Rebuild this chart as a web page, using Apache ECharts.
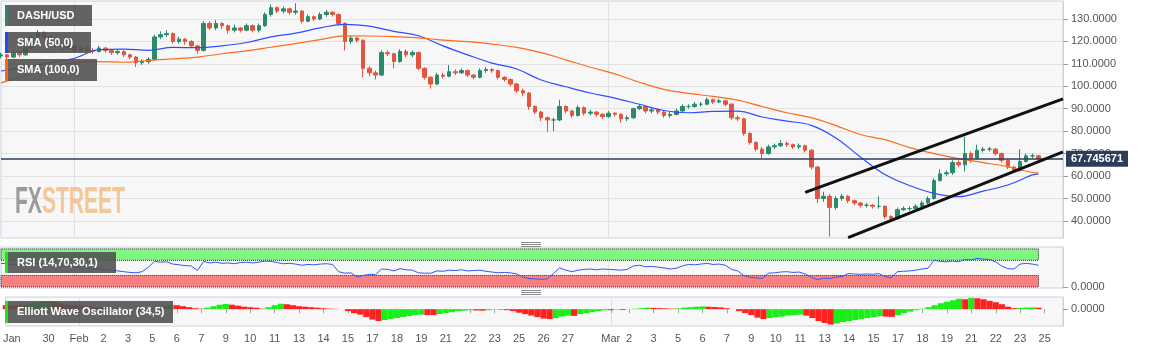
<!DOCTYPE html>
<html>
<head>
<meta charset="utf-8">
<title>DASH/USD</title>
<script src="https://cdn.jsdelivr.net/npm/echarts@6/dist/echarts.min.js"></script>
<style>
  html, body { margin: 0; padding: 0; background: #fff; }
  #chart { width: 1153px; height: 352px; }
</style>
</head>
<body>
<div id="chart"></div>
<script>
// DASH/USD, 8h candles, Jan 29 - Mar 24
const firstOpen = 113.5;
const closes = [114,113,115,114,117,122,124,122,120,118,
  117,118,116,117,116,115.5,117,116,115,115.5,
  114,113,110.5,111,112,122,123,123.5,120,121,
  120,118,116,128,126,128,127,125,126,125,
  127,125,127,132,135,133.5,134.5,133,133.5,129,
  131,130,132,133,132,128,120,121.5,120.5,108,
  106,105,115,114.5,111,115.5,114,115,108,104,
  101,105,104.5,106.5,106,107,105,104,107,107.5,
  107,104,103,101,98,97,91,88.5,86,85,
  85,91,89,87,90.5,88,88.5,87.5,86.5,88,
  87.5,85.5,86,90,91,89,89.5,88.5,87,87.5,
  89,91,91,92,92,94,93,93.5,92,86,
  85.5,79,75,72,70,73,73.5,74.5,74,73,
  73.5,71.5,64,50,51,46,50,51,49,48,
  47,47,46.5,46.5,42,41,45,45.5,45.5,46.5,
  48,50,58,61,61.5,66,65,70,68,71.5,
  72,72,70,67,64,62.5,66.5,69,69,67.75];
const highs = [115,114.5,116,115.5,118,123,125,124.5,122.5,120.5,
  119,119,118.5,118,117.5,117,118,117.5,116.5,116.5,
  116,114.5,113.5,112,113,123,124.5,125,124,122,
  121.5,120.5,118.5,129,129,129.5,128.5,127.5,127.5,126.5,
  128,127.5,128,133,136.5,135.5,135.5,135,137,134,
  132,131.5,133,134,133.5,132.5,128.5,122.5,122,121,
  109,107,116,116,115,116.5,116.5,116,115.5,108.5,
  104.5,106,106,109.5,107.5,108,107.5,105.5,108,108.5,
  108,107.5,104.5,103.5,101.5,99,97.5,91.5,89,86.5,
  86,94,91.5,89.5,91.5,91,89.5,89,88,89,
  88.5,88,87,90.5,92,91.5,90.5,90,89,88.5,
  90,92,92,93,93,95,94.5,94.5,94,92.5,
  87,86,79.5,75.5,73,74,74.5,76,75.5,74.5,
  74.5,74,72,64.5,53,52,51,52,51.5,49.5,
  48.5,48,47.5,51,47,42.5,46,46.5,46.5,47.5,
  49,51,59,63,62.5,67,67,77.5,71,74,
  73,73,72.5,70.5,67.5,64.5,72,70,70,69.5];
const lows = [112.5,112,112.5,113,113.5,116.5,121.5,121,119,117,
  116,116.5,115,115.5,115,114.5,115,115,114,114,
  113,112,108.6,109.5,110,111.5,121,122,119,119,
  118.5,117,114.5,115.5,125,125,125.5,123.5,124,124,
  124.5,124,124,126.5,131,132.5,132.5,132,132,128,
  128.5,129,129.5,131,131,127,116,119,119.5,104,
  104.5,103,104.5,113.5,108,110.5,113,113,107,103,
  99,100.5,103.5,104,105,105.5,104,103,103.5,106,
  106,103,102,100,97,95.5,89.5,87.5,84.5,79.7,
  80,84.5,88,86,86.5,87,87,86.5,85.5,86,
  86.5,83.7,84.5,85.5,89.5,88,88,87.5,86,86,
  87,88.5,90,90.5,91,91.5,92,92.5,91,85,
  84.5,78,74,71,68,69.5,72,73,73,72,
  72,70.5,63,48,48.5,33,45,49,48,47,
  46,46,45.5,45.5,41,39.5,40.5,44.5,44.5,45,
  46,47.5,49.5,57.5,60,60.5,64,62,66,67.5,
  70.5,71,69,66,63,61.5,62,66,68,67.3];

// moving averages read every 4th candle
const smaSlots = [0,4,8,12,16,20,24,28,32,36,40,44,48,52,56,60,64,68,72,76,80,84,
  88,92,96,100,104,108,112,116,120,124,128,132,136,140,144,148,152,156,160,164,168,169];
const sma50 = [106.8,108.5,110.5,112.5,116.3,116.6,116,117.3,117.2,118,
  119.5,122,123.7,126,127.6,126.8,124.5,122.5,118,114,
  110.3,107.7,102.8,99.8,97,94.7,92,89.2,88.2,88.8,
  88.9,86.3,84.5,82.6,77,68.5,60.7,55.8,52.3,50.8,
  53.3,56,60.5,61];
const sma100 = [101.5,105,108.5,110.5,111,110.7,111.5,112.2,113,114.5,
  115.8,117.4,119,120.8,122.5,122.4,122.1,121.6,120.6,119.9,
  118.8,117.3,115,111.8,108.5,105.5,101.8,98.6,96.8,95.5,
  93.8,91,88.2,86,82.5,78.5,76.2,72.7,70,67.8,
  66,64.2,61.6,61.4];

const rsi = [62,61,58,59,57,60,62,60,58,56,
  55,54,52,50,49,48,47,46,44,42,
  40,38,37,40,52,67,65,66,60,58,
  56,55,43,67,63,65,62,63,61,64,
  65,63,65,68,67,64,61,62,60,57,
  59,58,60,61,59,40,36,37,26,30,
  33,32,47,46,42,48,45,44,37,36,
  36,42,41,44,43,45,42,43,44,41,
  39,37,38,37,34,26,22,21,20,21,
  35,50,44,40,44,46,47,45,47,46,
  45,44,46,55,57,53,54,52,50,47,
  49,55,59,58,60,62,59,60,57,46,
  42,30,25,24,22,36,37,39,40,38,
  39,34,25,19,23,22,26,27,35,34,
  33,34,33,35,27,24,40,41,42,44,
  47,49,70,67,66,68,66,72,71,75,
  73,72,66,55,48,47,60,62,60,57];

const ewo = [4,3.5,3.5,4.5,5.5,6.5,7.5,8.3,7.5,6,
  4.5,4,3.5,3,2.5,2,2,1.5,1,0.5,
  0,-0.5,-1,-0.5,0.5,2,3.5,4.5,4,3,
  2,1,0.5,1.5,3,4.5,5.3,4.5,3.5,2.5,
  2,1.5,0.5,2,4,5.5,5,4,3,2.5,
  2,1.5,1,0.5,0.3,0,-2,-4,-5.5,-8,
  -10.5,-12,-11,-10,-9,-8,-7,-6,-5.5,-6,
  -6,-5,-4,-3,-2,-1.5,-1,-1.3,-1.5,-1,
  -0.3,-0.5,-1,-2,-3.5,-5,-6.5,-8,-9.5,-10,
  -9,-7.5,-6.5,-6.8,-5,-4,-3,-2,-1,-1,
  -0.5,-0.8,0,0.5,1,1.5,1.3,1,0.8,0.5,
  0.8,1.5,2,2.5,2.8,2.5,2.2,1.8,1,0,
  -2,-4,-6,-8.5,-10,-9,-8,-7.5,-6.5,-6,
  -5.5,-6.5,-9,-12,-14,-15.5,-14.5,-13,-12,-11,
  -10,-9,-8,-7,-7.5,-7.8,-6,-4,-2.5,-1,
  0.5,2,4,6,7.5,9,10.5,10,11.5,11,
  10,8.5,7,5,2.5,1,1.3,1.6,1.8,1.5];

const lastPrice = 67.745671;
const priceTicks = [40, 50, 60, 70, 80, 90, 100, 110, 120, 130];
const tickLabels = ['Jan','30','Feb','2','3','5','6','7','9','10','11','13','14','15','17','18','19','21','22','23','25','26','27',
  'Mar','2','3','5','6','7','9','10','11','13','14','15','17','18','19','21','22','23','25'];
const tickSlots = [1,7,12,16,20,24,28,32,36,40,44,48,52,56,60,64,68,72,76,80,84,88,92,
  99,102,106,110,114,118,122,126,130,134,138,142,146,150,154,158,162,166,170];
const monthSlots = [12, 99];
// channel drawn on the chart: [slot, price] end points
const channelUpper = [[131, 52.7], [173, 94.4]];
const channelLower = [[138, 32.6], [173, 70.8]];
const slotCount = 174;

const categories = new Array(slotCount).fill('');
tickSlots.forEach((s, k) => { categories[s] = tickLabels[k]; });

const candles = closes.map((c, i) => [i === 0 ? firstOpen : closes[i - 1], c, lows[i], highs[i]]);
const sparse = vals => {
  const out = new Array(closes.length).fill(null);
  smaSlots.forEach((s, k) => { out[s] = vals[k]; });
  return out;
};
const ewoBars = ewo.map((v, i) => ({
  value: v,
  itemStyle: { color: i > 0 && v > ewo[i - 1] ? '#19ee19' : '#ff2020' }
}));

const FONT = '"Liberation Sans", Arial, sans-serif';
const panelBorder = '#c9d1e6';
const monthLine = (idx) => monthSlots.includes(idx);

function xAxisFor(gridIndex, showLabels) {
  return {
    type: 'category', gridIndex, data: categories, boundaryGap: false,
    axisLine: { show: false },
    axisTick: showLabels ? { show: true, length: 4, interval: (i, v) => v !== '', lineStyle: { color: '#9aa' } } : { show: false },
    axisLabel: showLabels ? { show: true, interval: (i, v) => v !== '', color: '#555', fontSize: 11, fontFamily: FONT, margin: 7, hideOverlap: false } : { show: false },
    splitLine: { show: true, interval: monthLine, lineStyle: { color: '#e1e1e1' } }
  };
}

// legend-like tag boxes sit on top of everything
function labelBox(x, y, w, h, text, strip) {
  return {
    type: 'group', x, y, zlevel: 1,
    children: [
      { type: 'rect', z: 100, shape: { x: 0, y: 0, width: w, height: h }, style: { fill: 'rgba(82,82,82,0.9)' } },
      { type: 'rect', z: 101, shape: { x: 0, y: 0, width: 3, height: h }, style: { fill: strip } },
      { type: 'text', z: 102, x: 12, y: h / 2, style: { text, fill: '#fff', font: 'bold 11px ' + FONT, verticalAlign: 'middle', textVerticalAlign: 'middle' } }
    ]
  };
}

function handle(y) {
  return {
    type: 'group', x: 521, y, zlevel: 1,
    children: [0, 2, 4].map(d => ({ type: 'line', z: 100, shape: { x1: 0, y1: d + 0.5, x2: 20, y2: d + 0.5 }, style: { stroke: '#8a8a8a', lineWidth: 1 } }))
  };
}

const chart = echarts.init(document.getElementById('chart'));
chart.setOption({
  animation: false,
  backgroundColor: '#fff',
  textStyle: { fontFamily: FONT },
  grid: [
    { left: 1, right: 90, top: 1, height: 237, show: true, backgroundColor: '#f7f7f7', borderColor: panelBorder },
    { left: 1, right: 90, top: 247, height: 41, show: true, backgroundColor: '#f7f7f7', borderColor: panelBorder },
    { left: 1, right: 90, top: 297, height: 29, show: true, backgroundColor: '#f7f7f7', borderColor: panelBorder }
  ],
  xAxis: [xAxisFor(0, false), xAxisFor(1, false), xAxisFor(2, true)],
  yAxis: [
    {
      type: 'value', gridIndex: 0, position: 'right', min: 32.4, max: 138, scale: true,
      axisLine: { show: true, lineStyle: { color: panelBorder } },
      axisTick: { show: true, length: 5, customValues: priceTicks, lineStyle: { color: '#999' } },
      axisLabel: { customValues: priceTicks, color: '#555', fontSize: 11, margin: 8, formatter: v => v.toFixed(4) },
      splitLine: { show: true, lineStyle: { color: '#e2e2e2' } }
    },
    {
      type: 'value', gridIndex: 1, position: 'right', min: -3, max: 105,
      axisLine: { show: true, lineStyle: { color: panelBorder } },
      axisTick: { show: true, length: 5, customValues: [0], lineStyle: { color: '#999' } },
      axisLabel: { customValues: [0], color: '#555', fontSize: 11, margin: 8, formatter: v => v.toFixed(4) },
      splitLine: { show: false }
    },
    {
      type: 'value', gridIndex: 2, position: 'right', min: -17, max: 12.3,
      axisLine: { show: true, lineStyle: { color: panelBorder } },
      axisTick: { show: true, length: 5, customValues: [0], lineStyle: { color: '#999' } },
      axisLabel: { customValues: [0], color: '#555', fontSize: 11, margin: 8, formatter: v => v.toFixed(4) },
      splitLine: { show: false }
    }
  ],
  series: [
    {
      name: 'DASH/USD', type: 'candlestick', xAxisIndex: 0, yAxisIndex: 0, z: 3,
      data: candles, barWidth: 4,
      itemStyle: { color: '#2b8a6c', color0: '#e2553f', borderColor: '#2b8a6c', borderColor0: '#e2553f', borderWidth: 1 },
      markLine: {
        silent: true, symbol: ['none', 'none'], animation: false,
        data: [
          {
            yAxis: lastPrice,
            lineStyle: { color: '#2c3c5a', width: 1.5, type: 'solid' },
            label: {
              show: true, position: 'end', distance: 3, formatter: () => lastPrice.toFixed(6),
              color: '#fff', fontWeight: 'bold', fontSize: 11, backgroundColor: '#2c3c5a', padding: [3, 5, 2, 5]
            }
          },
          [{ coord: channelUpper[0], lineStyle: { color: '#111', width: 3, type: 'solid' }, label: { show: false } }, { coord: channelUpper[1] }],
          [{ coord: channelLower[0], lineStyle: { color: '#111', width: 3, type: 'solid' }, label: { show: false } }, { coord: channelLower[1] }]
        ]
      }
    },
    {
      name: 'SMA (50,0)', type: 'line', xAxisIndex: 0, yAxisIndex: 0, z: 4,
      data: sparse(sma50), connectNulls: true, smooth: 0.4, showSymbol: false,
      lineStyle: { color: '#2f4dff', width: 1.2 }
    },
    {
      name: 'SMA (100,0)', type: 'line', xAxisIndex: 0, yAxisIndex: 0, z: 4,
      data: sparse(sma100), connectNulls: true, smooth: 0.4, showSymbol: false,
      lineStyle: { color: '#ff6a1c', width: 1.2 }
    },
    {
      name: 'RSI', type: 'line', xAxisIndex: 1, yAxisIndex: 1, z: 4,
      data: rsi, showSymbol: false, lineStyle: { color: '#3559f0', width: 1 },
      markArea: {
        silent: true,
        data: [
          [{ xAxis: 0, yAxis: 70, itemStyle: { color: '#80f580', borderColor: '#222', borderWidth: 1, borderType: 'dotted' } }, { xAxis: closes.length - 1, yAxis: 100 }],
          [{ xAxis: 0, yAxis: 0, itemStyle: { color: '#f98080', borderColor: '#222', borderWidth: 1, borderType: 'dotted' } }, { xAxis: closes.length - 1, yAxis: 30 }]
        ]
      }
    },
    {
      name: 'Elliott Wave Oscillator', type: 'bar', xAxisIndex: 2, yAxisIndex: 2,
      data: ewoBars, barWidth: '100%', barCategoryGap: '0%'
    }
  ],
  graphic: [
    {
      type: 'text', x: 15, y: 185, scaleX: 0.585, z: 1,
      style: {
        text: '{a|FX}{b|STREET}', opacity: 0.85,
        rich: {
          a: { fill: '#8b8b8b', fontSize: 36, fontWeight: 'bold', fontFamily: FONT },
          b: { fill: '#f3be88', fontSize: 36, fontWeight: 'bold', fontFamily: FONT }
        }
      }
    },
    labelBox(5, 5, 87, 21, 'DASH/USD', '#258a6c'),
    labelBox(5, 32, 86, 21, 'SMA (50,0)', '#2247ff'),
    labelBox(5, 59, 92, 22, 'SMA (100,0)', '#ff6414'),
    labelBox(5, 252, 111, 21, 'RSI (14,70,30,1)', '#22e022'),
    labelBox(5, 301, 168, 22, 'Elliott Wave Oscillator (34,5)', '#22e022'),
    handle(242),
    handle(290)
  ]
});
</script>
</body>
</html>
